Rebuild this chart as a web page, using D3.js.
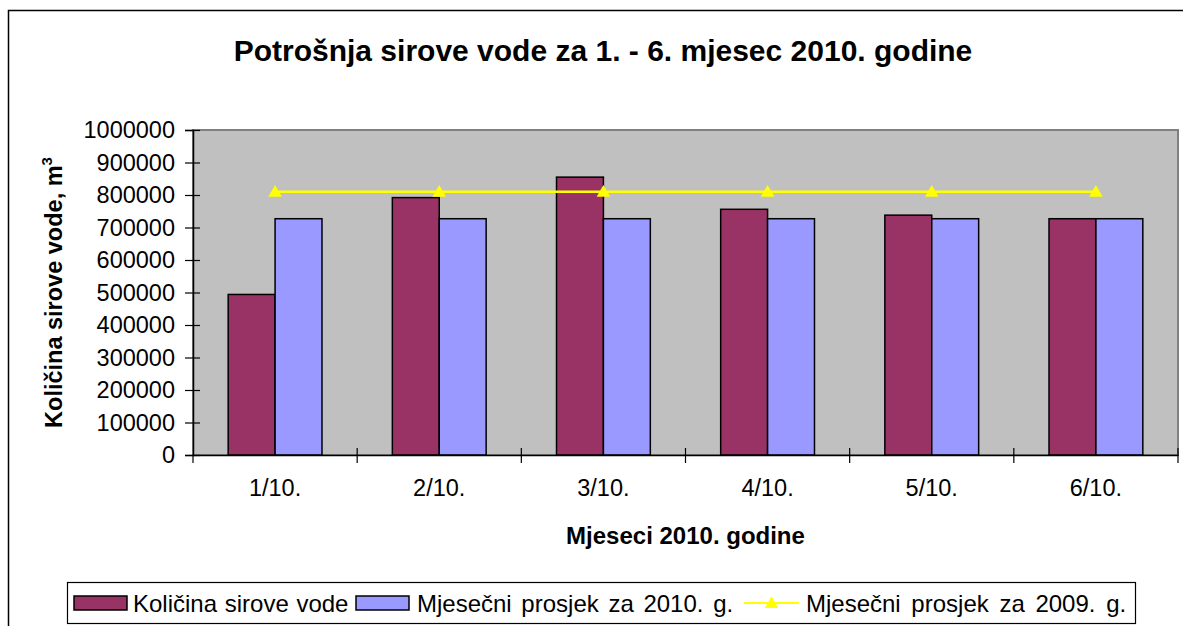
<!DOCTYPE html>
<html>
<head>
<meta charset="utf-8">
<script src="https://cdn.jsdelivr.net/npm/d3@7"></script>
<style>
  body { margin: 0; background: #fff; }
  svg { display: block; font-family: "Liberation Sans", Arial, sans-serif; }
</style>
</head>
<body>
<svg id="chart" width="1183" height="626"></svg>
<script>
// data
const months = ["1/10.", "2/10.", "3/10.", "4/10.", "5/10.", "6/10."];
const kolicina = [494000, 792000, 855000, 756000, 738000, 727000];
const prosjek2010 = [727000, 727000, 727000, 727000, 727000, 727000];
const prosjek2009 = [810000, 810000, 810000, 810000, 810000, 810000];
const yTicks = [0, 100000, 200000, 300000, 400000, 500000, 600000, 700000, 800000, 900000, 1000000];
const seriesNames = ["Količina sirove vode", "Mjesečni prosjek za 2010. g.", "Mjesečni prosjek za 2009. g."];

const svg = d3.select("#chart");
const plot = { left: 193, right: 1178, top: 130, bottom: 455 };

// outer chart border
svg.append("rect")
    .attr("x", 8.5).attr("y", 10.5)
    .attr("width", 1200).attr("height", 700)
    .attr("fill", "#fff").attr("stroke", "#000").attr("stroke-width", 1.5);

// title
svg.append("text")
    .attr("x", 603).attr("y", 61)
    .attr("text-anchor", "middle")
    .attr("font-size", 30).attr("font-weight", "bold")
    .text("Potrošnja sirove vode za 1. - 6. mjesec 2010. godine");

// scales
const x0 = d3.scaleBand().domain(months).range([plot.left, plot.right]);
const x1 = d3.scaleBand().domain([0, 1]).range([0, x0.bandwidth()]).paddingOuter(0.75);
const y = d3.scaleLinear().domain([0, 1000000]).range([plot.bottom, plot.top]);

// plot area
svg.append("rect")
    .attr("x", plot.left).attr("y", plot.top)
    .attr("width", plot.right - plot.left).attr("height", plot.bottom - plot.top)
    .attr("fill", "#c0c0c0").attr("stroke", "#808080").attr("stroke-width", 2);

// bars
const colors = ["#993366", "#9999ff"];
[kolicina, prosjek2010].forEach((vals, s) => {
    svg.append("g")
        .selectAll("rect")
        .data(vals)
        .join("rect")
        .attr("x", (d, i) => x0(months[i]) + x1(s))
        .attr("y", d => y(d))
        .attr("width", x1.bandwidth())
        .attr("height", d => y(0) - y(d))
        .attr("fill", colors[s])
        .attr("stroke", "#000")
        .attr("stroke-width", 1.5);
});

// 2009 average line with triangles
const cx = m => x0(m) + x0.bandwidth() / 2;
svg.append("path")
    .datum(prosjek2009)
    .attr("fill", "none")
    .attr("stroke", "#ffff00")
    .attr("stroke-width", 2.5)
    .attr("d", d3.line().x((d, i) => cx(months[i])).y(d => y(d)));

const tri = d3.symbol().type(d3.symbolTriangle).size(80);
svg.append("g")
    .selectAll("path")
    .data(prosjek2009)
    .join("path")
    .attr("transform", (d, i) => `translate(${cx(months[i])},${y(d) + 1})`)
    .attr("d", tri)
    .attr("fill", "#ffff00");

// y axis
const yAxis = svg.append("g")
    .attr("transform", `translate(${plot.left},0)`)
    .call(d3.axisLeft(y).tickValues(yTicks).tickFormat(d3.format("d")).tickSize(8).tickPadding(10));
yAxis.select(".domain").attr("stroke", "#000").attr("stroke-width", 1.5);
yAxis.selectAll(".tick line").attr("x2", 7).attr("x1", -8).attr("stroke-width", 1.2);
yAxis.selectAll("text").attr("font-size", 23.5).attr("fill", "#000")
    .attr("font-family", "Liberation Sans, Arial, sans-serif");

// x axis
const xAxis = svg.append("g")
    .attr("transform", `translate(0,${plot.bottom})`)
    .call(d3.axisBottom(x0).tickSize(0).tickPadding(24));
xAxis.select(".domain").attr("stroke", "#000").attr("stroke-width", 1.5);
xAxis.selectAll("text").attr("font-size", 23.5).attr("fill", "#000")
    .attr("font-family", "Liberation Sans, Arial, sans-serif");

// category boundary ticks (cross style)
const bounds = months.map(m => x0(m)).concat([plot.right]);
svg.append("g")
    .selectAll("line")
    .data(bounds)
    .join("line")
    .attr("x1", d => d).attr("x2", d => d)
    .attr("y1", (d, i) => i === 0 ? plot.bottom : plot.bottom - 7)
    .attr("y2", plot.bottom + 8)
    .attr("stroke", "#000").attr("stroke-width", 1.2);

// axis titles
svg.append("text")
    .attr("x", (plot.left + plot.right) / 2).attr("y", 544)
    .attr("text-anchor", "middle")
    .attr("font-size", 24).attr("font-weight", "bold")
    .text("Mjeseci 2010. godine");

const yTitle = svg.append("text")
    .attr("transform", `translate(62,${(plot.top + plot.bottom) / 2}) rotate(-90)`)
    .attr("text-anchor", "middle")
    .attr("font-size", 23.5).attr("font-weight", "bold");
yTitle.append("tspan").text("Količina sirove vode, m");
yTitle.append("tspan").attr("dy", -10).attr("font-size", 15).text("3");

// legend
const legend = svg.append("g");
legend.append("rect")
    .attr("x", 67.5).attr("y", 582.5).attr("width", 1068).attr("height", 41)
    .attr("fill", "#fff").attr("stroke", "#000").attr("stroke-width", 1.2);

const items = [
    { sw: 74, tx: 133, kind: "bar", color: colors[0], ws: 1 },
    { sw: 356, tx: 417, kind: "bar", color: colors[1], ws: 3 },
    { sw: 744, tx: 806, kind: "line", color: "#ffff00", ws: 4 }
];
items.forEach((it, i) => {
    if (it.kind === "bar") {
        legend.append("rect")
            .attr("x", it.sw).attr("y", 596).attr("width", 53).attr("height", 14)
            .attr("fill", it.color).attr("stroke", "#000").attr("stroke-width", 1.5);
    } else {
        legend.append("line")
            .attr("x1", it.sw).attr("x2", it.sw + 55).attr("y1", 603).attr("y2", 603)
            .attr("stroke", it.color).attr("stroke-width", 2);
        legend.append("path")
            .attr("transform", `translate(${it.sw + 27.5},604)`)
            .attr("d", tri).attr("fill", it.color);
    }
    legend.append("text")
        .attr("x", it.tx).attr("y", 612)
        .attr("font-size", 24)
        .attr("word-spacing", it.ws)
        .text(seriesNames[i]);
});
</script>
</body>
</html>
